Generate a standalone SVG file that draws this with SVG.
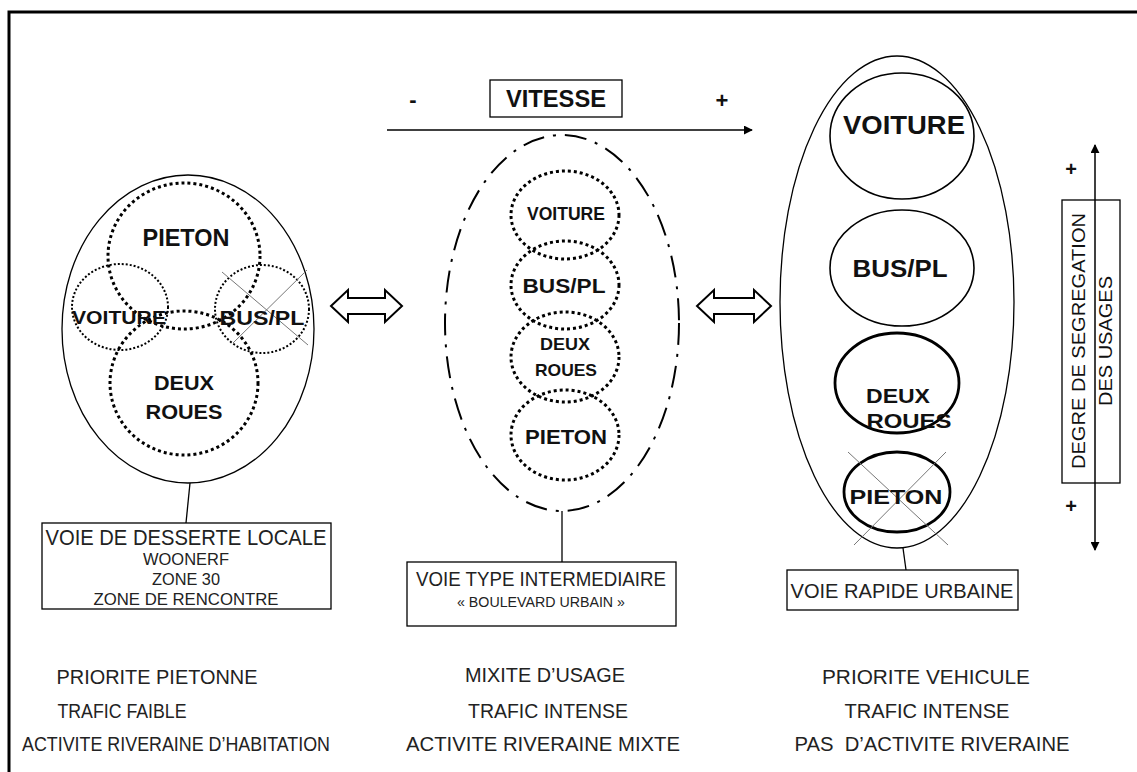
<svg xmlns="http://www.w3.org/2000/svg" width="1137" height="772" viewBox="0 0 1137 772">
<defs>
<marker id="ah" viewBox="0 0 10 10" refX="9" refY="5" markerWidth="9" markerHeight="9" markerUnits="userSpaceOnUse" orient="auto-start-reverse"><path d="M0,0 L10,5 L0,10 Z" fill="#000"/></marker>
<style>
text{font-family:"Liberation Sans",Arial,sans-serif;fill:#111;text-anchor:middle}
.b{font-weight:bold}
.out{fill:none;stroke:#000;stroke-width:1.3}
.dot{fill:none;stroke:#000;stroke-width:3;stroke-dasharray:3 3}
.dots{fill:none;stroke:#000;stroke-width:2;stroke-dasharray:2 2}
.dashdot{fill:none;stroke:#000;stroke-width:2;stroke-dasharray:22 9 3 9}
.solid{fill:none;stroke:#000;stroke-width:1.6}
.thick{fill:none;stroke:#000;stroke-width:2.8}
.x{stroke:#777;stroke-width:1}
.box{fill:#fff;stroke:#000;stroke-width:1.3}
.frame{fill:none;stroke:#000;stroke-width:1.3}
.lbl{fill:#222}
.bot{fill:#222;font-size:20px}
.hollow{fill:#fff;stroke:#000;stroke-width:2;stroke-linejoin:miter}
</style>
</defs>
<rect x="9" y="12" width="1160" height="830" fill="none" stroke="#000" stroke-width="3"/>

<g id="vitesse">
<text x="413" y="107" class="b" font-size="22">-</text>
<rect x="490" y="80" width="132" height="37" class="box"/>
<text x="556" y="107" class="b" font-size="23" textLength="100" lengthAdjust="spacingAndGlyphs">VITESSE</text>
<text x="722" y="108" class="b" font-size="22">+</text>
</g>

<g id="connectors">
<line x1="387" y1="130" x2="752" y2="130" stroke="#000" stroke-width="1.5" marker-end="url(#ah)"/>
<line x1="190" y1="483" x2="186" y2="523" stroke="#000" stroke-width="1.3"/>
<line x1="562" y1="511" x2="562" y2="562" stroke="#000" stroke-width="1.3"/>
<line x1="903" y1="548" x2="906" y2="570" stroke="#000" stroke-width="1.3"/>
<line x1="1095" y1="145" x2="1095" y2="550" stroke="#000" stroke-width="1.5" marker-start="url(#ah)" marker-end="url(#ah)"/>
<path class="hollow" d="M331,306 L348,290 L348,298 L385,298 L385,290 L402,306 L385,322 L385,314 L348,314 L348,322 Z"/>
<path class="hollow" d="M697,306 L714,290 L714,298 L754,298 L754,290 L771,306 L754,322 L754,314 L714,314 L714,322 Z"/>
</g>

<g id="voie-locale">
<ellipse cx="188" cy="329" rx="126" ry="154" class="out"/>
<ellipse cx="184" cy="256" rx="76" ry="73" class="dot"/>
<ellipse cx="184" cy="383" rx="74" ry="72" class="dot"/>
<ellipse cx="120" cy="307" rx="48" ry="43" class="dots"/>
<ellipse cx="262" cy="309" rx="47" ry="44" class="dots"/>
<line x1="222" y1="272" x2="308" y2="345" class="x"/>
<line x1="307" y1="270" x2="233" y2="343" class="x"/>
<text x="186" y="246" class="b" font-size="23" textLength="87" lengthAdjust="spacingAndGlyphs">PIETON</text>
<text x="119" y="324" class="b" font-size="19" textLength="94" lengthAdjust="spacingAndGlyphs">VOITURE</text>
<text x="262" y="325" class="b" font-size="21" textLength="85" lengthAdjust="spacingAndGlyphs">BUS/PL</text>
<text x="184" y="390" class="b" font-size="20" textLength="60" lengthAdjust="spacingAndGlyphs">DEUX</text>
<text x="184" y="419" class="b" font-size="20" textLength="77" lengthAdjust="spacingAndGlyphs">ROUES</text>
<rect x="42" y="523" width="289" height="86" class="box"/>
<text x="186" y="545" class="lbl" font-size="22" textLength="281" lengthAdjust="spacingAndGlyphs">VOIE DE DESSERTE LOCALE</text>
<text x="186" y="565" class="lbl" font-size="17" textLength="86" lengthAdjust="spacingAndGlyphs">WOONERF</text>
<text x="186" y="585" class="lbl" font-size="17" textLength="68" lengthAdjust="spacingAndGlyphs">ZONE 30</text>
<text x="186" y="605" class="lbl" font-size="17" textLength="185" lengthAdjust="spacingAndGlyphs">ZONE DE RENCONTRE</text>
</g>

<g id="voie-intermediaire">
<ellipse cx="562" cy="323" rx="117" ry="188" class="dashdot"/>
<ellipse cx="565" cy="215" rx="54" ry="44" class="dot"/>
<ellipse cx="565" cy="285" rx="54" ry="44" class="dot"/>
<ellipse cx="565" cy="357" rx="54" ry="45" class="dot"/>
<ellipse cx="565" cy="435" rx="54" ry="45" class="dot"/>
<text x="566" y="220" class="b" font-size="18" textLength="78" lengthAdjust="spacingAndGlyphs">VOITURE</text>
<text x="564" y="293" class="b" font-size="21" textLength="83" lengthAdjust="spacingAndGlyphs">BUS/PL</text>
<text x="565" y="350" class="b" font-size="17" textLength="50" lengthAdjust="spacingAndGlyphs">DEUX</text>
<text x="566" y="376" class="b" font-size="17" textLength="62" lengthAdjust="spacingAndGlyphs">ROUES</text>
<text x="566" y="444" class="b" font-size="20" textLength="82" lengthAdjust="spacingAndGlyphs">PIETON</text>
<rect x="407" y="562" width="269" height="64" class="box"/>
<text x="541" y="586" class="lbl" font-size="20" textLength="250" lengthAdjust="spacingAndGlyphs">VOIE TYPE INTERMEDIAIRE</text>
<text x="541" y="607" class="lbl" font-size="15" textLength="168" lengthAdjust="spacingAndGlyphs">« BOULEVARD URBAIN »</text>
</g>

<g id="voie-rapide">
<ellipse cx="897" cy="302" rx="117" ry="246" class="out"/>
<ellipse cx="902" cy="136" rx="72" ry="63" class="solid"/>
<ellipse cx="902" cy="268" rx="72" ry="58" class="solid"/>
<ellipse cx="897" cy="383" rx="62" ry="50" class="thick"/>
<ellipse cx="897" cy="492" rx="53" ry="40" class="thick"/>
<line x1="848" y1="452" x2="948" y2="545" class="x"/>
<line x1="946" y1="452" x2="854" y2="545" class="x"/>
<text x="904" y="134" class="b" font-size="25" textLength="122" lengthAdjust="spacingAndGlyphs">VOITURE</text>
<text x="900" y="277" class="b" font-size="24" textLength="95" lengthAdjust="spacingAndGlyphs">BUS/PL</text>
<text x="898" y="403" class="b" font-size="21" textLength="64" lengthAdjust="spacingAndGlyphs">DEUX</text>
<text x="909" y="428" class="b" font-size="21" textLength="85" lengthAdjust="spacingAndGlyphs">ROUES</text>
<text x="896" y="504" class="b" font-size="21" textLength="93" lengthAdjust="spacingAndGlyphs">PIETON</text>
<rect x="787" y="570" width="231" height="40" class="box"/>
<text x="902" y="598" class="lbl" font-size="21" textLength="223" lengthAdjust="spacingAndGlyphs">VOIE RAPIDE URBAINE</text>
</g>

<g id="segregation">
<text x="1071" y="176" class="b" font-size="20">+</text>
<text x="1071" y="513" class="b" font-size="20">+</text>
<rect x="1062" y="200" width="58" height="283" class="frame"/>
<text transform="translate(1085,341) rotate(-90)" font-size="19" textLength="256" lengthAdjust="spacingAndGlyphs">DEGRE DE SEGREGATION</text>
<text transform="translate(1112,341) rotate(-90)" font-size="19" textLength="130" lengthAdjust="spacingAndGlyphs">DES USAGES</text>
</g>

<g id="caracteristiques">
<text x="157" y="684" class="bot" textLength="201" lengthAdjust="spacingAndGlyphs">PRIORITE PIETONNE</text>
<text x="122" y="718" class="bot" textLength="129" lengthAdjust="spacingAndGlyphs">TRAFIC FAIBLE</text>
<text x="176" y="751" class="bot" textLength="308" lengthAdjust="spacingAndGlyphs">ACTIVITE RIVERAINE D’HABITATION</text>
<text x="545" y="682" class="bot" textLength="160" lengthAdjust="spacingAndGlyphs">MIXITE D’USAGE</text>
<text x="548" y="718" class="bot" textLength="160" lengthAdjust="spacingAndGlyphs">TRAFIC INTENSE</text>
<text x="543" y="751" class="bot" textLength="274" lengthAdjust="spacingAndGlyphs">ACTIVITE RIVERAINE MIXTE</text>
<text x="926" y="684" class="bot" textLength="208" lengthAdjust="spacingAndGlyphs">PRIORITE VEHICULE</text>
<text x="927" y="718" class="bot" textLength="165" lengthAdjust="spacingAndGlyphs">TRAFIC INTENSE</text>
<text x="932" y="751" class="bot" textLength="275" lengthAdjust="spacingAndGlyphs" xml:space="preserve">PAS  D’ACTIVITE RIVERAINE</text>
</g>
</svg>
